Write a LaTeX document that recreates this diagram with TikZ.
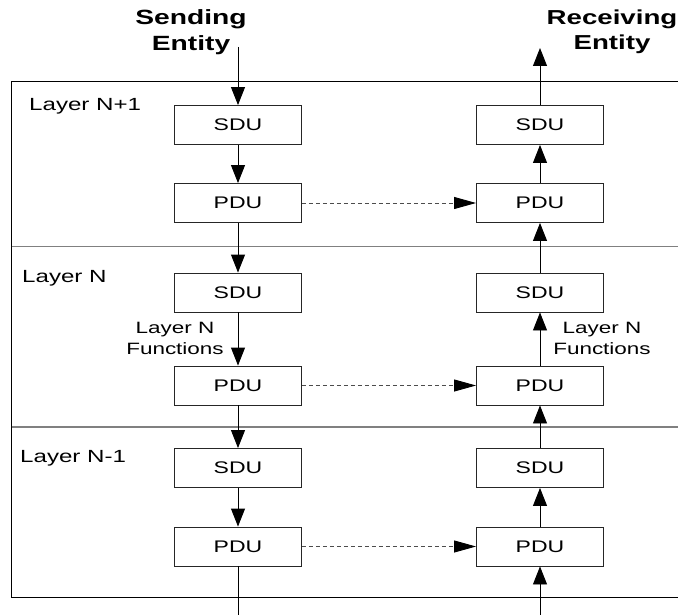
\documentclass[tikz,border=0pt]{standalone}
\usepackage{fontspec}
\setmainfont{Liberation Sans}[FakeStretch=1.37]
\usetikzlibrary{arrows.meta}

\tikzset{
  unitbox/.style={draw=black!85, line width=0.9pt, minimum width=127pt, minimum height=39pt,
    inner sep=0pt, font=\fontsize{16.8}{18}\selectfont},
  flow/.style={line width=0.9pt, -{Triangle[length=18pt,width=14pt]}},
  plain/.style={line width=0.9pt},
  peer/.style={draw=black!70, line width=0.9pt, dash pattern=on 4pt off 3pt,
    -{Triangle[length=22pt,width=12pt,color=black]}},
  layerline/.style={draw=black!50, line width=1.6pt},
  framestyle/.style={draw=black, line width=0.9pt},
  layerlabel/.style={anchor=west, inner sep=0pt, font=\fontsize{17.6}{18}\selectfont},
  funclabel/.style={align=center, inner sep=0pt, font=\fontsize{16.4}{21}\selectfont},
  entity/.style={align=center, inner sep=0pt, font=\fontsize{20.6}{25.5}\selectfont\bfseries}
}

\begin{document}
\begin{tikzpicture}[x=1pt,y=-1pt]
\useasboundingbox (0,0) rectangle (678,615);

% layer frame, open on the right
\draw[framestyle] (690,81) -- (11.5,81) -- (11.5,597) -- (690,597);
\draw[layerline] (11.5,246.5) -- (690,246.5);
\draw[layerline] (11.5,427) -- (690,427);

% layer names
\node[layerlabel] (nplus) at (29,106) {Layer N+1};
\node[layerlabel] (nlayer) at (22,278) {Layer N};
\node[layerlabel] (nminus) at (20,458) {Layer N-1};

% entities
\node[entity] (send) at (191,32) {Sending\\Entity};
\node[entity, font=\fontsize{20.2}{25.5}\selectfont\bfseries] (recv) at (612,32) {Receiving\\Entity};

% sending side
\node[unitbox] (ls1) at (238,125) {SDU};
\node[unitbox] (lp1) at (238,203) {PDU};
\node[unitbox] (ls2) at (238,292.5) {SDU};
\node[unitbox] (lp2) at (238,385.5) {PDU};
\node[unitbox] (ls3) at (238,468) {SDU};
\node[unitbox] (lp3) at (238,546.5) {PDU};

% receiving side
\node[unitbox] (rs1) at (540,125) {SDU};
\node[unitbox] (rp1) at (540,203) {PDU};
\node[unitbox] (rs2) at (540,292.5) {SDU};
\node[unitbox] (rp2) at (540,385.5) {PDU};
\node[unitbox] (rs3) at (540,468) {SDU};
\node[unitbox] (rp3) at (540,546.5) {PDU};

% function labels
\node[funclabel] (lfun) at (175,338.5) {Layer N\\Functions};
\node[funclabel] (rfun) at (602,338.5) {Layer N\\Functions};

% free ends
\coordinate (sendtop) at (238,47);
\coordinate (sendbot) at (238,615);
\coordinate (recvtop) at (540,48);
\coordinate (recvbot) at (540,615);

% downward flow
\draw[flow] (sendtop) -- (ls1);
\draw[flow] (ls1) -- (lp1);
\draw[flow] (lp1) -- (ls2);
\draw[flow] (ls2) -- (lp2);
\draw[flow] (lp2) -- (ls3);
\draw[flow] (ls3) -- (lp3);
\draw[plain] (lp3) -- (sendbot);

% upward flow
\draw[flow] (recvbot) -- (rp3);
\draw[flow] (rp3) -- (rs3);
\draw[flow] (rs3) -- (rp2);
\draw[flow] (rp2) -- (rs2);
\draw[flow] (rs2) -- (rp1);
\draw[flow] (rp1) -- (rs1);
\draw[flow] (rs1) -- (recvtop);

% peer protocol
\draw[peer] (lp1) -- (rp1);
\draw[peer] (lp2) -- (rp2);
\draw[peer] (lp3) -- (rp3);
\end{tikzpicture}
\end{document}
